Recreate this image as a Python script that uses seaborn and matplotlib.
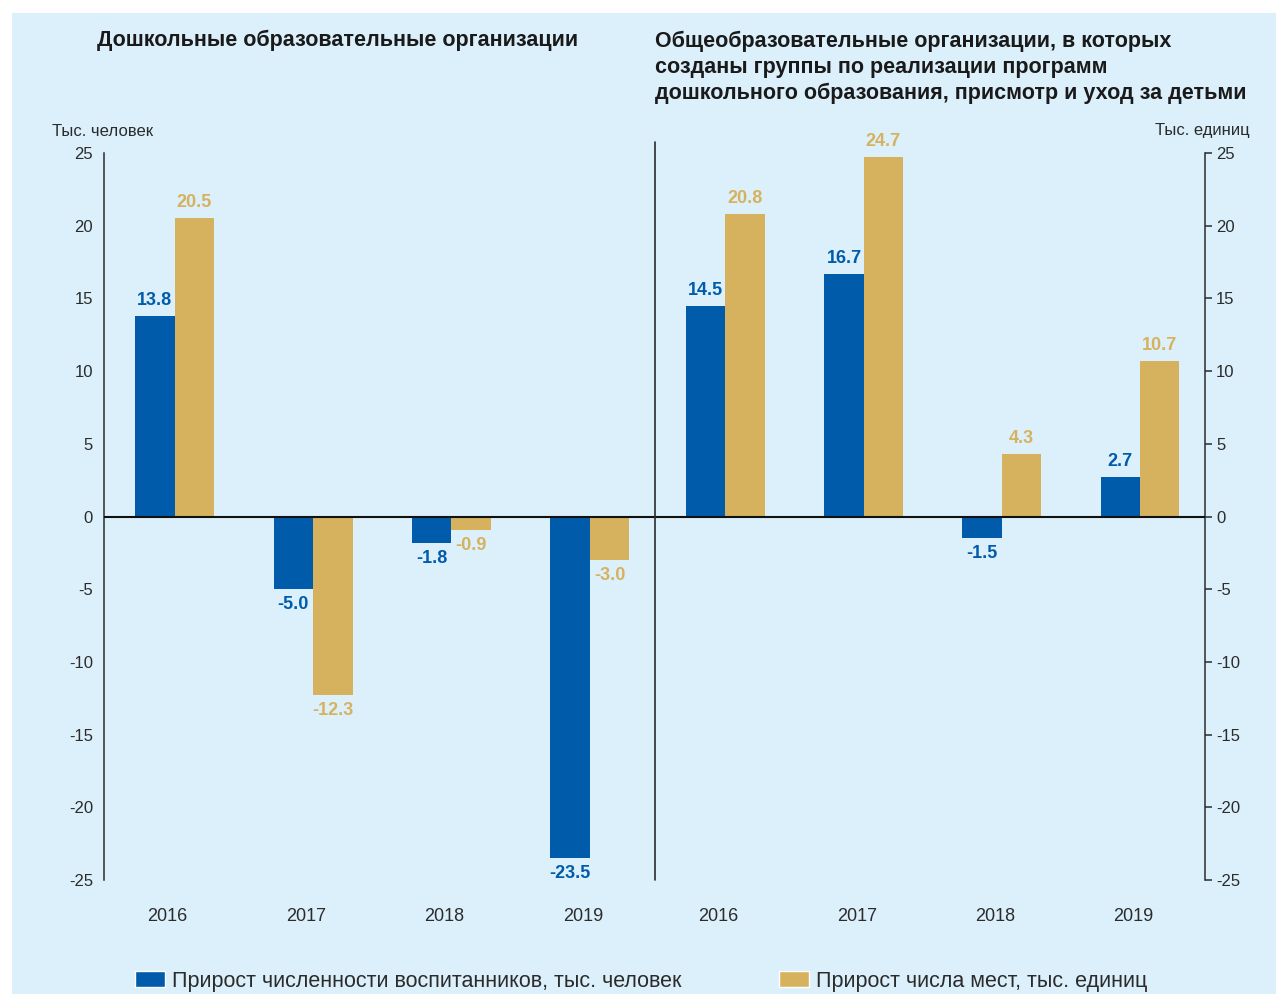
import pandas as pd
import seaborn as sns
import matplotlib.pyplot as plt
from matplotlib import font_manager
from matplotlib.patches import Rectangle, Patch
from matplotlib.lines import Line2D
from matplotlib.transforms import ScaledTranslation

# Данные
years = ['2016', '2017', '2018', '2019']
series_names = ['Прирост численности воспитанников, тыс. человек',
                'Прирост числа мест, тыс. единиц']
left_pupils = [13.8, -5.0, -1.8, -23.5]
left_places = [20.5, -12.3, -0.9, -3.0]
right_pupils = [14.5, 16.7, -1.5, 2.7]
right_places = [20.8, 24.7, 4.3, 10.7]

left_title = 'Дошкольные образовательные организации'
right_title = ('Общеобразовательные организации, в которых\n'
               'созданы группы по реализации программ\n'
               'дошкольного образования, присмотр и уход за детьми')

blue = '#005bab'
gold = '#d6b25e'
bg = '#dcf0fb'
dark = '#2b2b2b'

names = {f.name for f in font_manager.fontManager.ttflist}
narrow = 'Liberation Sans Narrow' if 'Liberation Sans Narrow' in names else 'Liberation Sans'

sns.set_theme(style='white')
plt.rcParams['font.family'] = ['Liberation Sans', 'DejaVu Sans']
plt.rcParams['axes.unicode_minus'] = False


def make_df(pupils, places):
    return pd.DataFrame({
        'year': years * 2,
        'value': pupils + places,
        'series': [series_names[0]] * 4 + [series_names[1]] * 4,
    })


fig = plt.figure(figsize=(12.76, 9.94), dpi=100, facecolor='white')
fig.add_artist(Rectangle((12 / 1276, 0), 1, 1 - 13 / 994, transform=fig.transFigure,
                         facecolor=bg, edgecolor='none', zorder=-10))

y0 = 1 - 880 / 994
h = (880 - 153) / 994
ax1 = fig.add_axes([104 / 1276, y0, (655 - 104) / 1276, h])
ax2 = fig.add_axes([655 / 1276, y0, (1205 - 655) / 1276, h])

# подписи годов немного левее центра пары столбцов
shift = ScaledTranslation(-7 / 100, 0, fig.dpi_scale_trans)

for ax, pupils, places in [(ax1, left_pupils, left_places), (ax2, right_pupils, right_places)]:
    ax.set_facecolor('none')
    sns.barplot(data=make_df(pupils, places), x='year', y='value', hue='series',
                palette=[blue, gold], width=0.57, saturation=1, legend=False,
                linewidth=0, ax=ax)
    for cont, col in zip(ax.containers, [blue, gold]):
        ax.bar_label(cont, fmt='%.1f', padding=5, color=col, fontsize=13,
                     fontweight='bold', family=narrow)
    ax.axhline(0, color='#111111', lw=1.5, zorder=5)
    ax.set_ylim(-25, 25)
    ax.set_xlim(-0.51, 3.47)
    ax.set_yticks(range(-25, 30, 5))
    ax.set_xlabel('')
    ax.set_ylabel('')
    ax.tick_params(axis='x', length=0, pad=20, labelsize=13, labelcolor=dark)
    ax.tick_params(axis='y', length=5, width=1.1, color=dark, pad=3,
                   labelsize=12, labelcolor=dark)
    for lab in ax.get_xticklabels():
        lab.set_transform(lab.get_transform() + shift)
    for s in ['top', 'bottom', 'left', 'right']:
        ax.spines[s].set_visible(False)

ax1.spines['left'].set_visible(True)
ax1.spines['left'].set_color(dark)
ax1.spines['left'].set_linewidth(1.1)
ax2.yaxis.tick_right()
ax2.spines['right'].set_visible(True)
ax2.spines['right'].set_color(dark)
ax2.spines['right'].set_linewidth(1.1)

# Разделитель между панелями
fig.add_artist(Line2D([655 / 1276, 655 / 1276], [1 - 142 / 994, y0],
                      transform=fig.transFigure, color=dark, lw=1.2))

# Заголовки
fig.text(97 / 1276, 1 - 40 / 994, left_title, fontsize=15.5, fontweight='bold',
         color='#1a1a1a', va='center', ha='left')
fig.text(655 / 1276, 1 - 31 / 994, right_title, fontsize=15.5, fontweight='bold',
         color='#1a1a1a', va='top', ha='left', linespacing=1.3)

fig.text(52 / 1276, 1 - 131 / 994, 'Тыс. человек', fontsize=12, color=dark,
         va='center', ha='left', family=narrow)
fig.text(1250 / 1276, 1 - 131 / 994, 'Тыс. единиц', fontsize=12, color=dark,
         va='center', ha='right', family=narrow)

# Легенда
handles = [Patch(facecolor=blue), Patch(facecolor=gold)]
fig.legend(handles, series_names, loc='center left', bbox_to_anchor=(135 / 1276, 1 - 981 / 994),
           ncol=2, frameon=False, fontsize=15.5, handlelength=1.4, handleheight=0.75,
           handletextpad=0.33, columnspacing=4.5, borderpad=0, borderaxespad=0,
           labelcolor=dark)

fig.savefig('out.png', dpi=100)
